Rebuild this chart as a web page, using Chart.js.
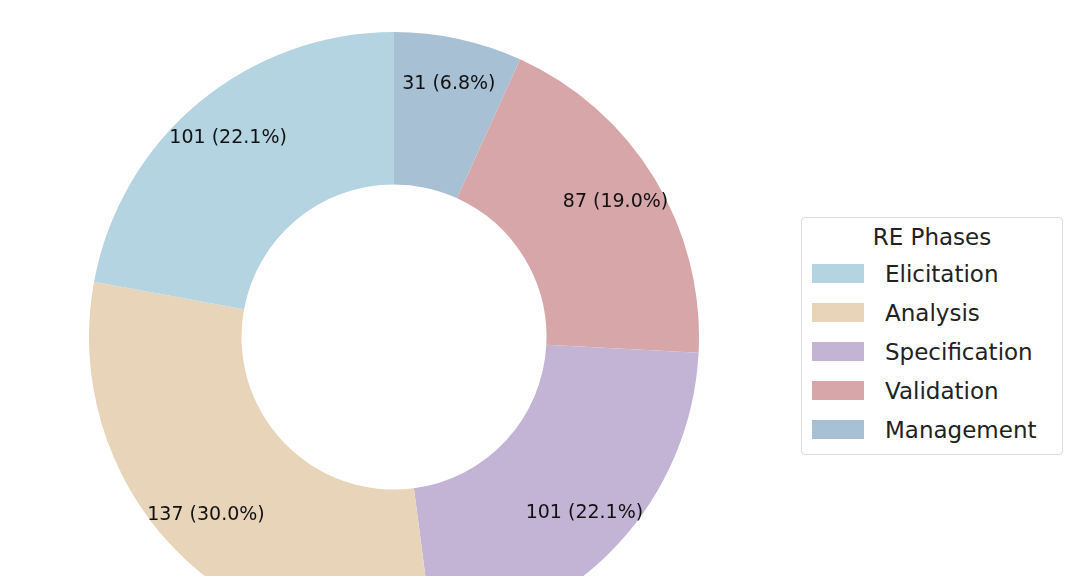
<!DOCTYPE html>
<html>
<head>
<meta charset="utf-8">
<script src="https://cdn.jsdelivr.net/npm/chart.js@4"></script>
<style>
  body { margin: 0; width: 1080px; height: 576px; overflow: hidden; background: #fff; font-family: "DejaVu Sans", sans-serif; position: relative; }
  #wrap { position: absolute; left: 89px; top: 32px; width: 610px; height: 610px; }
  #legend { position: absolute; left: 801px; top: 217px; width: 262px; height: 238px; border: 1px solid #ddd; border-radius: 4px; box-sizing: border-box; padding-top: 6px; }
  #legend .title { text-align: center; font-size: 23px; color: #222; margin-bottom: 4px; }
  #legend .item { display: flex; align-items: center; height: 39px; font-size: 23px; color: #222; }
  #legend .sw { width: 52px; height: 19px; margin: 0 21px 0 10px; }
</style>
</head>
<body>
<div id="wrap"><canvas id="c" width="610" height="610"></canvas></div>
<div id="legend"><div class="title">RE Phases</div></div>
<script>
// Fases de ingeniería de requisitos (orden de la leyenda)
const phases = ["Elicitation", "Analysis", "Specification", "Validation", "Management"];
const counts = [101, 137, 101, 87, 31];
const colors = ["#b4d4e2", "#e8d4b9", "#c3b4d6", "#d7a6a8", "#a7c0d4"];

const total = counts.reduce((a, b) => a + b, 0);

// Chart.js dibuja en sentido horario; invertimos para imitar el sentido antihorario
const labels = phases.slice().reverse();
const data = counts.slice().reverse();
const bg = colors.slice().reverse();

const sliceLabels = {
    id: "sliceLabels",
    afterDatasetsDraw(chart) {
        const ctx = chart.ctx;
        const meta = chart.getDatasetMeta(0);
        ctx.save();
        ctx.font = "19px 'DejaVu Sans'";
        ctx.fillStyle = "#111";
        ctx.textAlign = "center";
        ctx.textBaseline = "middle";
        meta.data.forEach((arc, i) => {
            const mid = (arc.startAngle + arc.endAngle) / 2;
            const r = arc.outerRadius * 0.85;
            const v = data[i];
            ctx.fillText(`${v} (${(v / total * 100).toFixed(1)}%)`, arc.x + Math.cos(mid) * r, arc.y + Math.sin(mid) * r);
        });
        ctx.restore();
    }
};

new Chart(document.getElementById("c").getContext("2d"), {
    type: "doughnut",
    data: {
        labels: labels,
        datasets: [{ data: data, backgroundColor: bg, borderWidth: 0 }]
    },
    options: {
        responsive: false,
        animation: false,
        cutout: "50%",
        layout: { padding: 0 },
        plugins: { legend: { display: false }, tooltip: { enabled: false } }
    },
    plugins: [sliceLabels]
});

// Leyenda en HTML
const leg = document.getElementById("legend");
phases.forEach((p, i) => {
    const d = document.createElement("div");
    d.className = "item";
    d.innerHTML = `<span class="sw" style="background:${colors[i]}"></span>${p}`;
    leg.appendChild(d);
});
</script>
</body>
</html>
